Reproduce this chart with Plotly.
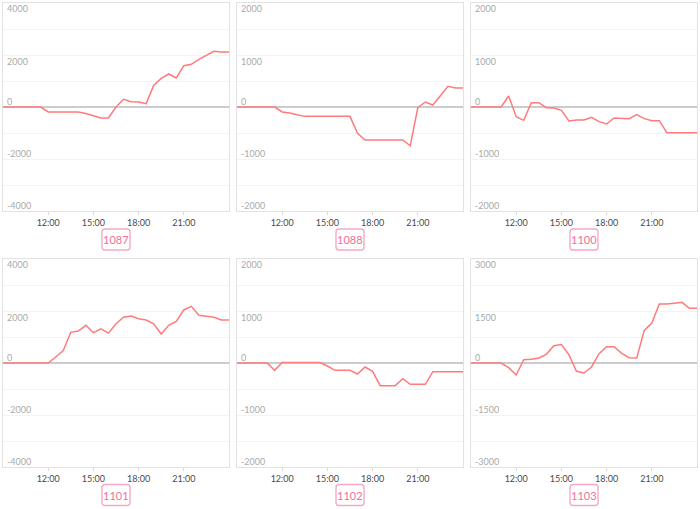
import plotly.graph_objects as go
import pandas as pd

# ---- data ----
times = pd.date_range("2023-04-07 09:00", "2023-04-08 00:00", freq="30min")

labels = ["1087", "1088", "1100", "1101", "1102", "1103"]
y_max = [4000, 2000, 2000, 4000, 2000, 3000]

s1087 = [0, 0, 0, 0, 0, 0, -190, -190, -190, -190, -190, -250, -330, -420, -420,
         0, 295, 205, 190, 130, 830, 1100, 1270, 1115, 1590, 1640, 1830, 2000, 2140, 2120, 2115]
s1088 = [0, 0, 0, 0, 0, 0, -96, -115, -150, -180, -180, -180, -180, -180, -180,
         -180, -506, -635, -635, -635, -635, -635, -635, -745, -13, 96, 38, 218, 397, 365, 365]
s1100 = [0, 0, 0, 0, 0, 212, -186, -256, 83, 83, -13, -19, -64, -270, -250,
         -250, -200, -282, -327, -212, -212, -224, -147, -224, -263, -263, -494, -494, -494, -494, -494]
s1101 = [0, 0, 0, 0, 0, 0, 0, 230, 475, 1180, 1230, 1450, 1165, 1310, 1150,
         1510, 1760, 1810, 1705, 1655, 1510, 1115, 1450, 1600, 2040, 2180, 1835, 1795, 1760, 1655, 1655]
s1102 = [0, 0, 0, 0, 0, -141, 10, 10, 10, 10, 10, 10, -58, -141, -141,
         -141, -212, -77, -160, -436, -436, -436, -301, -410, -410, -410, -167, -167, -167, -167, -167]
s1103 = [0, 0, 0, 0, 0, -135, -346, 96, 106, 144, 250, 500, 530, 240, -240,
         -288, -115, 270, 470, 470, 280, 154, 144, 940, 1155, 1700, 1700, 1725, 1750, 1577, 1577]
series = [s1087, s1088, s1100, s1101, s1102, s1103]

tick_times = ["2023-04-07 12:00", "2023-04-07 15:00", "2023-04-07 18:00", "2023-04-07 21:00"]
x_range = ["2023-04-07 09:00", "2023-04-08 00:00"]

# ---- layout geometry (pixels) ----
W, H = 700, 509
col_px = [(3, 229), (237, 463), (471, 697)]
row_px = [(3, 211), (259, 467)]
box_cy = [239.5, 495]

LINE = "#ff7b7b"
fig = go.Figure()
layout = dict(width=W, height=H, margin=dict(l=0, r=0, t=0, b=0),
              paper_bgcolor="white", plot_bgcolor="white", showlegend=False,
              font=dict(family="Lato, Noto Sans, sans-serif"))
annotations = []
shapes = []

for i, (lab, ymax, vals) in enumerate(zip(labels, y_max, series)):
    r, c = divmod(i, 3)
    n = i + 1
    xa = "x" if n == 1 else f"x{n}"
    ya = "y" if n == 1 else f"y{n}"
    x0, x1 = col_px[c]
    t0, t1 = row_px[r]
    fig.add_trace(go.Scatter(x=times, y=vals, mode="lines",
                             line=dict(color=LINE, width=1.5),
                             xaxis=xa, yaxis=ya, hoverinfo="skip"))
    layout["xaxis" if n == 1 else f"xaxis{n}"] = dict(
        domain=[x0 / W, x1 / W], anchor=ya, type="date", range=x_range,
        tickvals=tick_times, tickformat="%H:%M", ticks="outside", ticklen=3,
        tickcolor="#d8d8d8", tickfont=dict(size=9, color="#4a4a4a"),
        showgrid=False, showline=True, mirror=True, linecolor="#e2e2e2", linewidth=1,
        zeroline=False, fixedrange=True)
    layout["yaxis" if n == 1 else f"yaxis{n}"] = dict(
        domain=[1 - t1 / H, 1 - t0 / H], anchor=xa, range=[-ymax, ymax],
        dtick=ymax / 4, tick0=0, showticklabels=False, showgrid=True,
        gridcolor="#f3f3f3", gridwidth=1, zeroline=True, zerolinecolor="#cccccc",
        zerolinewidth=2, showline=True, mirror=True, linecolor="#e2e2e2", linewidth=1,
        fixedrange=True)
    # y labels inside the plot
    for v in [ymax, ymax / 2, 0, -ymax / 2, -ymax]:
        annotations.append(dict(
            text=f"{int(v)}", xref=f"{xa} domain", yref=ya, x=0, y=v,
            xanchor="left", yanchor="middle", xshift=2,
            yshift=(-5 if v == ymax else (-6 if v > 0 else 6)),
            showarrow=False, font=dict(size=9, color="#aaaaaa")))
    # label box
    cx = (x0 + x1) / 2
    cy = box_cy[r]
    bw, bh, rad = 28, 21, 3
    bx0, bx1 = cx - bw / 2, cx + bw / 2
    by0, by1 = cy - bh / 2, cy + bh / 2

    def P(px, py):
        return f"{px / W:.5f},{1 - py / H:.5f}"
    path = (f"M {P(bx0 + rad, by0)} L {P(bx1 - rad, by0)} Q {P(bx1, by0)} {P(bx1, by0 + rad)} "
            f"L {P(bx1, by1 - rad)} Q {P(bx1, by1)} {P(bx1 - rad, by1)} "
            f"L {P(bx0 + rad, by1)} Q {P(bx0, by1)} {P(bx0, by1 - rad)} "
            f"L {P(bx0, by0 + rad)} Q {P(bx0, by0)} {P(bx0 + rad, by0)} Z")
    shapes.append(dict(type="path", xref="paper", yref="paper", path=path,
                       line=dict(color="#f7a9c3", width=1.4), fillcolor="white"))
    annotations.append(dict(text=lab, xref="paper", yref="paper", x=cx / W, y=1 - cy / H,
                            xanchor="center", yanchor="middle", showarrow=False,
                            font=dict(size=11, color="#f0709a")))

layout["annotations"] = annotations
layout["shapes"] = shapes
fig.update_layout(**layout)
fig.write_html("out.html", config={"displayModeBar": False},
               post_script="document.body.style.margin='0';document.body.style.overflow='hidden';")
